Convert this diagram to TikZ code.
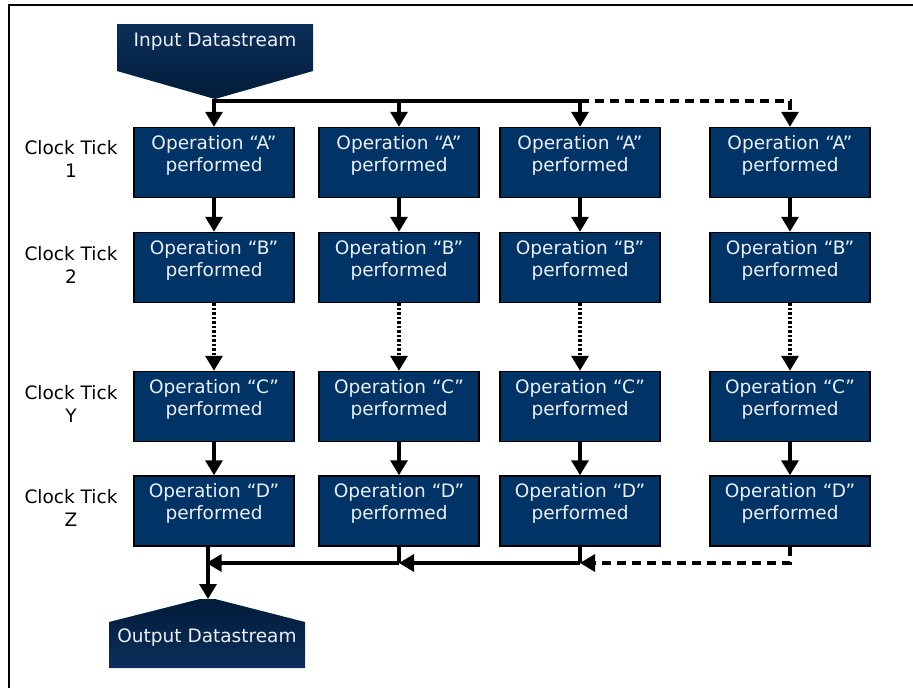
\documentclass[tikz,border=0pt]{standalone}
\usepackage{fontspec}
\setmainfont{DejaVu Sans}
\usetikzlibrary{arrows.meta}
\definecolor{navy}{RGB}{0,51,102}
\definecolor{shapetop}{RGB}{12,47,90}
\definecolor{shapebot}{RGB}{2,28,58}
\definecolor{optext}{RGB}{236,240,246}
\begin{document}
\begin{tikzpicture}[x=1pt,y=-1pt,
  opbox/.style={draw=black, line width=1.5pt, fill=navy, text=optext,
    minimum width=160pt, minimum height=70pt, inner sep=0pt, align=center,
    font=\fontsize{18.5}{22}\selectfont},
  ticklabel/.style={align=center, inner sep=0pt, font=\fontsize{18.5}{23}\selectfont},
  streamtext/.style={text=optext, inner sep=0pt, font=\fontsize{18.5}{22}\selectfont},
  conn/.style={line width=3.3pt},
  arr/.style={conn, -{Triangle[width=17pt,length=15pt]}},
  dashpat/.style={dash pattern=on 9pt off 6pt},
  dotpat/.style={dash pattern=on 2.5pt off 2pt},
  ]
\useasboundingbox (0,0) rectangle (913,688);
% frame (top and left edges only)
\draw[line width=2pt] (9,688) -- (9,5) -- (913,5);

% input shape
\shade[top color=shapetop, bottom color=shapebot]
  (117,24) -- (313,24) -- (313,71) -- (215,99) -- (117,71) -- cycle;
\node[streamtext] (in) at (215,41.5) {Input Datastream};
\coordinate (intip) at (214,99);

% output shape
\shade[top color=shapebot, bottom color=shapetop]
  (109,622) -- (200,599) -- (215,599) -- (305,622) -- (305,668) -- (109,668) -- cycle;
\node[streamtext] (out) at (207,637.5) {Output Datastream};
\coordinate (outtop) at (208,599);

% clock tick labels
\node[ticklabel] (t1) at (71,158.5) {Clock Tick\\1};
\node[ticklabel] (t2) at (71,264.5) {Clock Tick\\2};
\node[ticklabel] (t3) at (71,403.5) {Clock Tick\\Y};
\node[ticklabel] (t4) at (71,507.5) {Clock Tick\\Z};

% operation boxes
\foreach \c/\x in {1/214,2/399,3/580,4/790}{
  \node[opbox] (a\c) at (\x,162.5) {Operation “A”\\performed\rule[-19pt]{0pt}{1pt}};
  \node[opbox] (b\c) at (\x,267.5) {Operation “B”\\performed\rule[-19pt]{0pt}{1pt}};
  \node[opbox] (c\c) at (\x,406.5) {Operation “C”\\performed\rule[-19pt]{0pt}{1pt}};
  \node[opbox] (d\c) at (\x,511) {Operation “D”\\performed\rule[-19pt]{0pt}{1pt}};
}

% top distribution bus
\coordinate (j1) at (214,101);
\draw[conn] (intip) -- (j1) -- (j1 -| a3.north);
\draw[arr, dashpat] (j1 -| a3.north) -- (j1 -| a4.north) -- (a4.north);
\draw[arr] (j1) -- (a1.north);
\draw[arr] (j1 -| a2.north) -- (a2.north);
\draw[arr] (j1 -| a3.north) -- (a3.north);

% between rows
\foreach \c in {1,2,3,4}{
  \draw[arr] (a\c.south) -- (b\c.north);
  \draw[arr, dotpat] (b\c.south) -- (c\c.north);
  \draw[arr] (c\c.south) -- (d\c.north);
}

% bottom collection bus
\coordinate (k1) at (208,563);
\draw[arr] (d1.south -| k1) -- (outtop);
\draw[conn] (d2.south) -- (d2.south |- k1);
\draw[conn] (d3.south) -- (d3.south |- k1);
\draw[arr, dashpat] (d4.south) -- (d4.south |- k1) -- (d3.south |- k1);
\draw[arr] (d3.south |- k1) -- (d2.south |- k1);
\draw[arr, shorten >=-1.5pt] (d2.south |- k1) -- (k1);
\end{tikzpicture}
\end{document}
